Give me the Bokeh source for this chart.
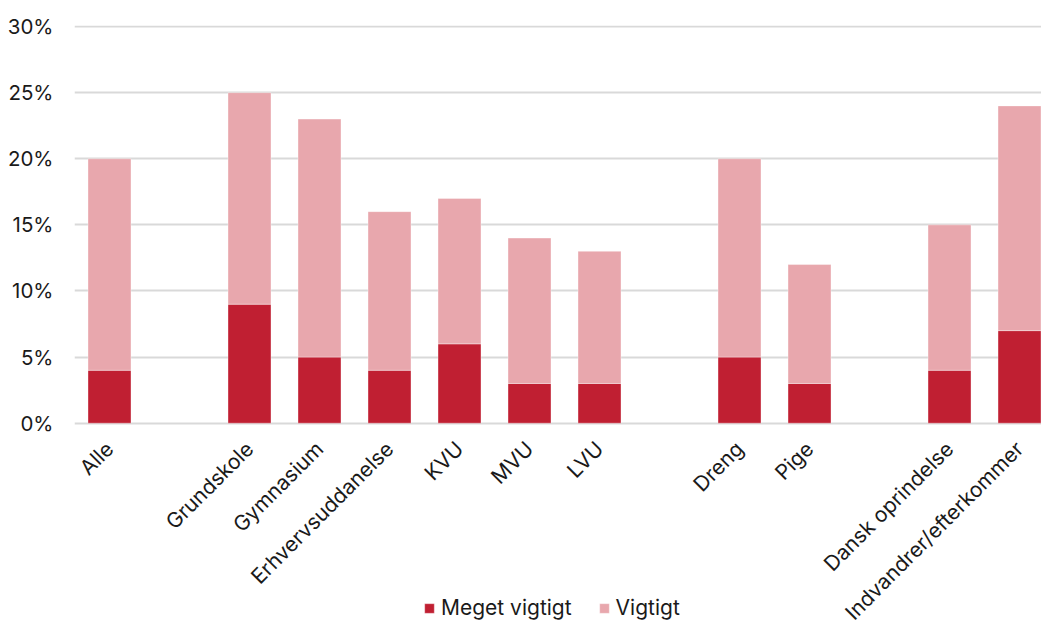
from bokeh.plotting import figure
from bokeh.models import Range1d, FixedTicker, ColumnDataSource, Legend, LegendItem, PrintfTickFormatter
from bokeh.embed import file_html
from bokeh.resources import INLINE

categories = ["Alle", "", "Grundskole", "Gymnasium", "Erhvervsuddanelse", "KVU", "MVU", "LVU",
              "", "Dreng", "Pige", "", "Dansk oprindelse", "Indvandrer/efterkommer"]
meget_vigtigt = [4, 0, 9, 5, 4, 6, 3, 3, 0, 5, 3, 0, 4, 7]
vigtigt = [16, 0, 16, 18, 12, 11, 11, 10, 0, 15, 9, 0, 11, 17]
y_ticks = [0, 5, 10, 15, 20, 25, 30]

FONT = "Inter"
DARK = "#C01F32"
LIGHT = "#E8A7AD"
FS = "21px"
TXT = "#1a1a1a"

idx = [i for i, c in enumerate(categories) if c]
m = [meget_vigtigt[i] for i in idx]
v = [vigtigt[i] for i in idx]
top2 = [a + b for a, b in zip(m, v)]
src = ColumnDataSource(dict(x=idx, bottom=[0] * len(idx), top1=m, top2=top2))

p = figure(width=1041, height=621, output_backend="svg", toolbar_location=None,
           x_range=Range1d(-0.5, 13.314), y_range=Range1d(-15.0, 30.08),
           min_border_left=74, min_border_right=0, min_border_top=25, min_border_bottom=0)
p.outline_line_color = None
p.background_fill_color = "white"
p.border_fill_color = "white"

r1 = p.vbar(x="x", bottom="bottom", top="top1", width=0.614, source=src,
            fill_color=DARK, line_color="white", line_alpha=0.35, line_width=1)
r2 = p.vbar(x="x", bottom="top1", top="top2", width=0.614, source=src,
            fill_color=LIGHT, line_color="white", line_alpha=0.35, line_width=1)

p.xgrid.grid_line_color = None
p.ygrid.grid_line_color = "#D9D9D9"
p.ygrid.grid_line_width = 2
p.ygrid.ticker = FixedTicker(ticks=y_ticks)

p.yaxis.ticker = FixedTicker(ticks=y_ticks)
p.yaxis.formatter = PrintfTickFormatter(format="%d%%")
p.yaxis.axis_line_color = None
p.yaxis.major_tick_line_color = None
p.yaxis.minor_tick_line_color = None
p.yaxis.major_tick_out = 0
p.yaxis.major_tick_in = 0
p.yaxis.minor_tick_out = 0
p.yaxis.major_label_standoff = 21
p.yaxis.major_label_text_font = FONT
p.yaxis.major_label_text_font_size = "20.5px"
p.yaxis.major_label_text_color = TXT

p.xaxis.fixed_location = 0
p.xaxis.ticker = FixedTicker(ticks=idx)
p.xaxis.major_label_overrides = {i: categories[i] for i in idx}
p.xaxis.major_label_orientation = 0.785398
p.xaxis.axis_line_color = None
p.xaxis.major_tick_line_color = None
p.xaxis.minor_tick_line_color = None
p.xaxis.major_tick_out = 0
p.xaxis.major_tick_in = 0
p.xaxis.minor_tick_out = 0
p.xaxis.major_label_standoff = 22
p.xaxis.major_label_text_font = FONT
p.xaxis.major_label_text_font_size = FS
p.xaxis.major_label_text_color = TXT

legend = Legend(items=[LegendItem(label="Meget vigtigt", renderers=[r1]),
                       LegendItem(label="Vigtigt", renderers=[r2])],
                orientation="horizontal", location=(349, 1),
                label_text_font=FONT, label_text_font_size=FS, label_text_color=TXT,
                glyph_width=12, glyph_height=12, spacing=26, label_standoff=6,
                border_line_color=None, background_fill_alpha=0, padding=0, margin=0)
p.add_layout(legend, "center")

open("out.html", "w").write(file_html(p, INLINE))
